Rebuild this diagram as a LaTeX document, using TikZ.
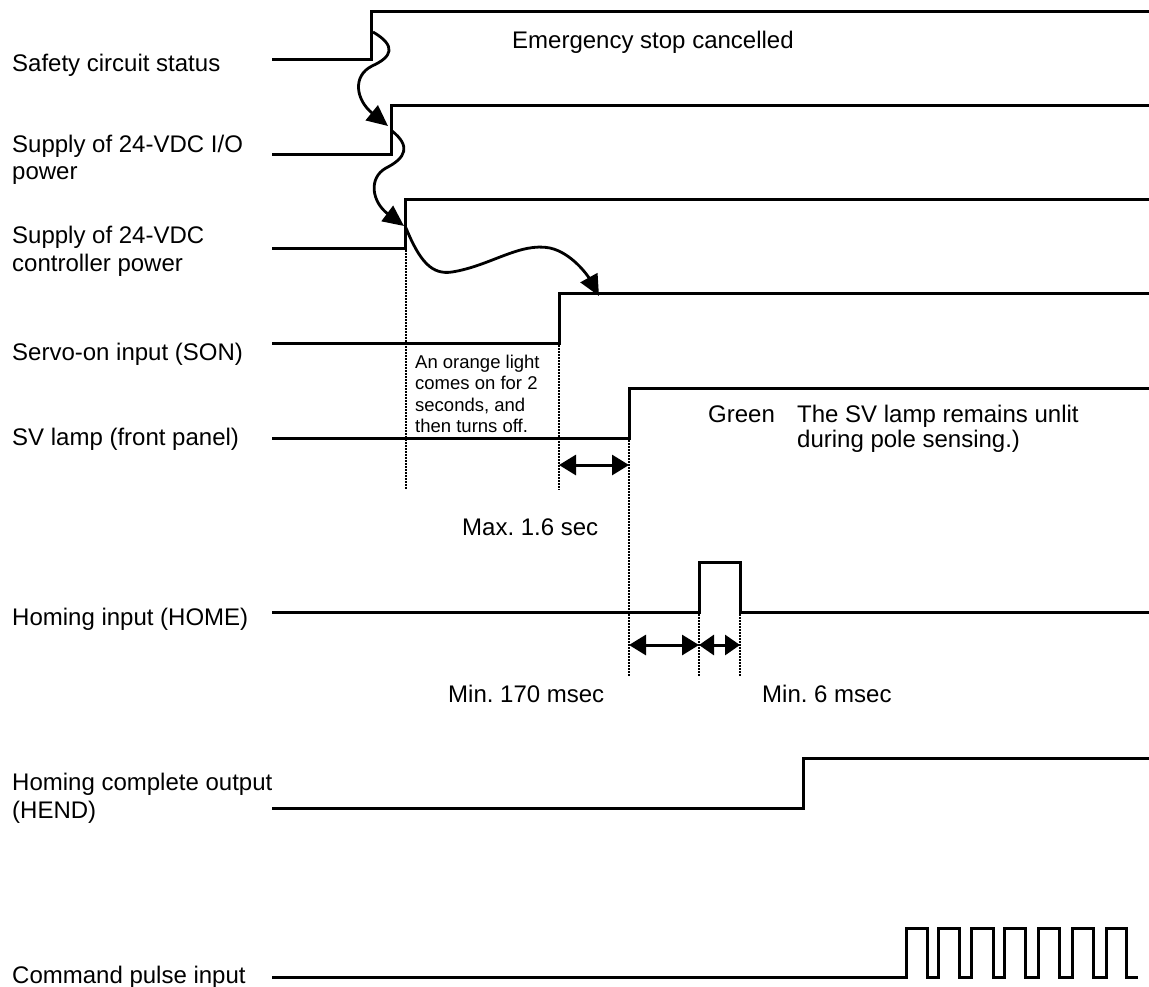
\documentclass[tikz,border=0pt]{standalone}
\usepackage{fontspec}
\setmainfont{Liberation Sans}
\usetikzlibrary{arrows.meta}
\frenchspacing
\begin{document}
\begin{tikzpicture}[x=1pt,y=-1pt,
  sig/.style={line width=3pt, line join=miter},
  lbl/.style={anchor=base west, inner sep=0pt, font=\fontsize{24}{27}\selectfont},
  small/.style={anchor=base west, inner sep=0pt, font=\fontsize{18.5}{21.3}\selectfont},
  guide/.style={line width=1.8pt, dash pattern=on 1.5pt off 1.5pt},
  wave/.style={line width=2.8pt, -{Triangle[length=21pt,width=19pt]}},
  span/.style={line width=3pt, {Triangle[length=17pt,width=20pt]}-{Triangle[length=17pt,width=20pt]}},
  spansmall/.style={line width=3pt, {Triangle[length=15pt,width=20pt]}-{Triangle[length=15pt,width=20pt]}}
]
\useasboundingbox (0,0) rectangle (1149,986);

% ---- labels
\node[lbl] (l1) at (12,71) {Safety circuit status};
\node[lbl] (l2a) at (12,152) {Supply of 24-VDC I/O};
\node[lbl] (l2b) at (12,179) {power};
\node[lbl] (l3a) at (12,243) {Supply of 24-VDC};
\node[lbl] (l3b) at (12,271) {controller power};
\node[lbl] (l4) at (12,360) {Servo-on input (SON)};
\node[lbl] (l5) at (12,445) {SV lamp (front panel)};
\node[lbl] (l6) at (12,625) {Homing input (HOME)};
\node[lbl] (l7a) at (12,790) {Homing complete output};
\node[lbl] (l7b) at (12,818) {(HEND)};
\node[lbl] (l8) at (12,983) {Command pulse input};

% ---- annotation texts
\node[lbl] (tes) at (512,48) {Emergency stop cancelled};
\node[small] (to1) at (415,368) {An orange light};
\node[small] (to2) at (415,389) {comes on for 2};
\node[small] (to3) at (415,411) {seconds, and};
\node[small] (to4) at (415,432) {then turns off.};
\node[lbl] (tgr) at (708,422) {Green};
\node[lbl] (tsv1) at (797,422) {The SV lamp remains unlit};
\node[lbl] (tsv2) at (797,447) {during pole sensing.)};
\node[lbl] (tmax) at (462,535) {Max. 1.6 sec};
\node[lbl] (tmin1) at (448,702) {Min. 170 msec};
\node[lbl] (tmin2) at (762,702) {Min. 6 msec};

% ---- signals
\draw[sig] (272,59) -- (371,59) -- (371,11) -- (1149,11);
\draw[sig] (272,154) -- (391,154) -- (391,105) -- (1149,105);
\draw[sig] (272,248) -- (405,248) -- (405,199) -- (1149,199);
\draw[sig] (272,343) -- (559,343) -- (559,293) -- (1149,293);
\draw[sig] (272,438) -- (629,438) -- (629,388) -- (1149,388);
\draw[sig] (272,612) -- (699,612) -- (699,562) -- (740,562) -- (740,612) -- (1149,612);
\draw[sig] (272,808) -- (803,808) -- (803,758) -- (1149,758);
\draw[sig] (272,977) -- (906,977)
  -- (906,928) -- (927,928) -- (927,977) -- (938,977)
  -- (938,928) -- (959,928) -- (959,977) -- (971,977)
  -- (971,928) -- (993,928) -- (993,977) -- (1004,977)
  -- (1004,928) -- (1025,928) -- (1025,977) -- (1038,977)
  -- (1038,928) -- (1059,928) -- (1059,977) -- (1072,977)
  -- (1072,928) -- (1093,928) -- (1093,977) -- (1106,977)
  -- (1106,928) -- (1126,928) -- (1126,977) -- (1138,977);

% ---- dotted guides
\draw[guide] (406,250) -- (406,490);
\draw[guide] (559,345) -- (559,490);
\draw[guide] (629,440) -- (629,677);
\draw[guide] (699,614) -- (699,677);
\draw[guide] (740,614) -- (740,677);

% ---- span arrows
\coordinate (s1a) at (559,465);
\coordinate (s1b) at (629,465);
\coordinate (s2a) at (629,645);
\coordinate (s2b) at (699,645);
\coordinate (s3b) at (740,645);
\draw[span] (s1a) -- (s1b);
\draw[span] (s2a) -- (s2b);
\draw[spansmall] (s2b) -- (s3b);

% ---- causal wavy arrows
\coordinate (w1s) at (373,32);
\coordinate (w1e) at (388,126);
\coordinate (w2s) at (392,131);
\coordinate (w2e) at (404,226);
\coordinate (w3s) at (406,228);
\coordinate (w3e) at (599,296);
\draw[wave] (w1s) .. controls (397,46) and (392,57) .. (372,66)
  .. controls (352,76) and (356,100) .. (w1e);
\draw[wave] (w2s) .. controls (411,146) and (406,158) .. (386,168)
  .. controls (368,178) and (372,202) .. (w2e);
\draw[wave] (w3s) .. controls (420,262) and (432,275) .. (452,272)
  .. controls (490,266) and (520,242) .. (550,248)
  .. controls (572,253) and (588,276) .. (w3e);
\end{tikzpicture}
\end{document}
